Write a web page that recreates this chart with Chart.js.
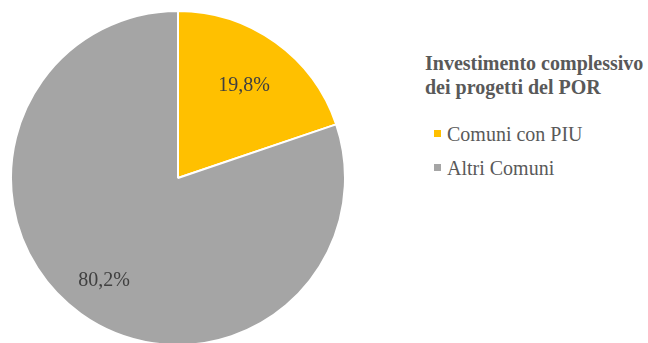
<!DOCTYPE html>
<html>
<head>
<meta charset="utf-8">
<script src="https://cdn.jsdelivr.net/npm/chart.js@4/dist/chart.umd.min.js"></script>
<style>
  body { margin: 0; width: 648px; height: 343px; overflow: hidden; background: #fff; font-family: "Liberation Serif", "Times New Roman", serif; }
  #pieBox { position: absolute; left: 10px; top: 10px; width: 336px; height: 336px; }
  #legend { position: absolute; left: 425px; top: 51px; color: #595959; white-space: nowrap; }
  #legend .title { font-weight: bold; font-size: 20px; line-height: 24px; }
  #legend ul { list-style: none; margin: 23px 0 0 9px; padding: 0; }
  #legend li { font-size: 20px; line-height: 24px; margin-bottom: 10px; }
  #legend li span { display: inline-block; width: 7px; height: 7px; margin-right: 6px; vertical-align: 4px; }
</style>
</head>
<body>
<div id="pieBox"><canvas id="myChart"></canvas></div>
<div id="legend"></div>
<script>
const legendTitle = ["Investimento complessivo", "dei progetti del POR"];
const labels = ["Comuni con PIU", "Altri Comuni"];
const values = [19.8, 80.2];
const colors = ["#FFC000", "#A5A5A5"];

// percentage text inside each slice
const sliceLabels = {
  id: "sliceLabels",
  afterDatasetsDraw(chart) {
    const ctx = chart.ctx;
    const meta = chart.getDatasetMeta(0);
    ctx.save();
    ctx.font = "20px 'Liberation Serif'";
    ctx.fillStyle = "#404040";
    ctx.textAlign = "center";
    ctx.textBaseline = "middle";
    meta.data.forEach((arc, i) => {
      const p = arc.getProps(["x", "y", "startAngle", "endAngle", "outerRadius"], true);
      const mid = (p.startAngle + p.endAngle) / 2;
      const r = p.outerRadius * (i == 0 ? 0.68 : 0.76);
      const txt = values[i].toFixed(1).replace(".", ",") + "%";
      ctx.fillText(txt, p.x + Math.cos(mid) * r, p.y + Math.sin(mid) * r);
    });
    ctx.restore();
  }
};

new Chart("myChart", {
  type: "pie",
  data: {
    labels: labels,
    datasets: [{
      data: values,
      backgroundColor: colors,
      borderColor: "#ffffff",
      borderWidth: 2
    }]
  },
  options: {
    responsive: true,
    maintainAspectRatio: false,
    animation: false,
    layout: { padding: 0 },
    plugins: {
      legend: { display: false },
      tooltip: { enabled: false }
    }
  },
  plugins: [sliceLabels]
});

let html = "<div class='title'>" + legendTitle.join("<br>") + "</div><ul>";
for (let i = 0; i < labels.length; i++) {
  html += "<li><span style='background:" + colors[i] + "'></span>" + labels[i] + "</li>";
}
html += "</ul>";
document.getElementById("legend").innerHTML = html;
</script>
</body>
</html>
